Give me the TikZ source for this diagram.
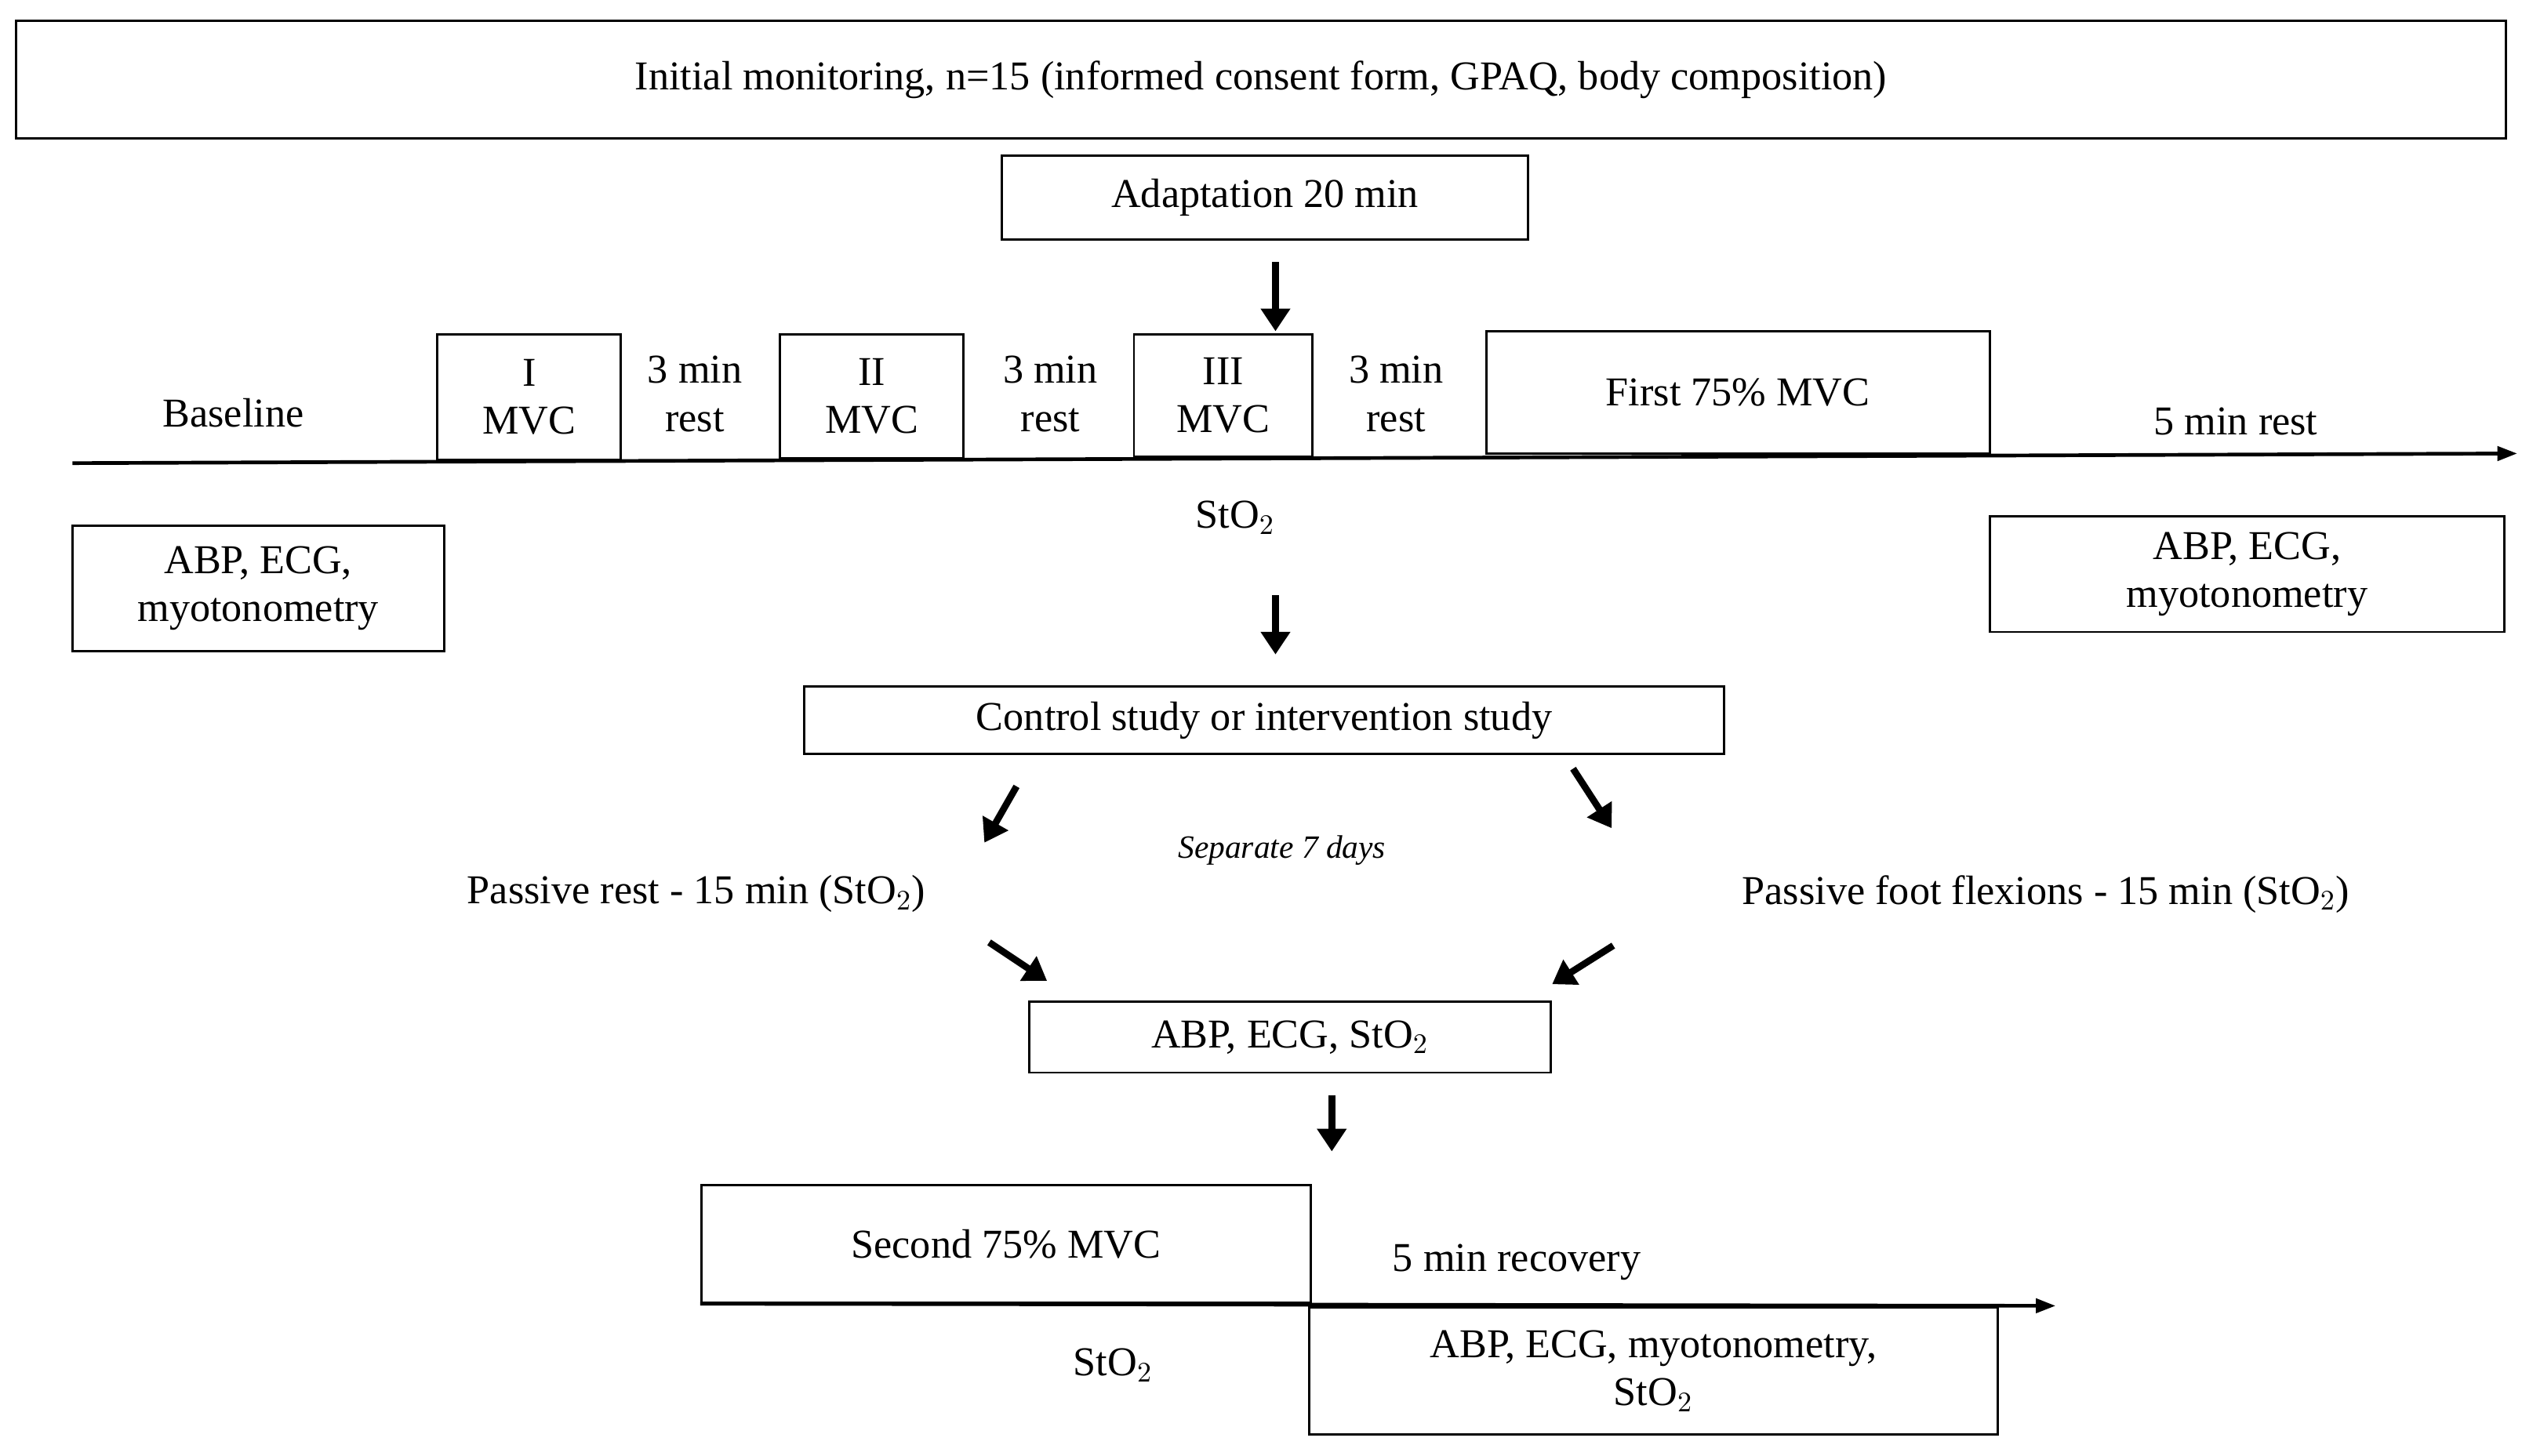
\documentclass[tikz,border=0pt]{standalone}
\usepackage{fontspec}
\setmainfont{Liberation Serif}
\usetikzlibrary{arrows.meta}
\begin{document}
\begin{tikzpicture}[x=0.02cm,y=-0.02cm,
  box/.style={draw,line width=0.8pt,inner sep=0pt,align=center,font=\fontsize{14.5}{17}\selectfont},
  txt/.style={inner sep=0pt,align=center,font=\fontsize{14.5}{17}\selectfont},
  bigarrow/.style={-{Triangle[length=8pt,width=10pt]},line width=2.4pt},
  axis/.style={-{Triangle[length=7pt,width=5pt]},line width=1.3pt}]
\useasboundingbox (0,0) rectangle (1568,905);
\newcommand{\bx}[7]{\node[box,minimum width={(#4-#2)*0.02cm},minimum height={(#5-#3)*0.02cm}] (#1) at ({(#2+#4)/2},{(#3+#5)/2}) {#6};}
\bx{init}{10}{13}{1558}{86}{Initial monitoring, n=15 (informed consent form, GPAQ, body composition)}{}
\bx{adapt}{623}{97}{950}{149}{Adaptation 20 min}{}
\draw[axis] (45,288) coordinate (a0) -- (1565,282) coordinate (a1);
\bx{m1}{272}{208}{386}{286}{I\\MVC}{}
\bx{m2}{485}{208}{599}{285}{II\\MVC}{}
\bx{m3}{705}{208}{816}{284}{III\\MVC}{}
\bx{first}{924}{206}{1237}{282}{First 75\% MVC}{}
\node[txt] (base) at (145,257) {Baseline};
\node[txt] (r1) at (432,245) {3 min\\rest};
\node[txt] (r2) at (653,245) {3 min\\rest};
\node[txt] (r3) at (868,245) {3 min\\rest};
\node[txt] (r5) at (1390,262) {5 min rest};
\node[txt] (sto1) at (768,322) {StO$_2$};
\bx{abpl}{45}{327}{276}{405}{ABP, ECG,\\myotonometry}{}
\bx{abpr}{1237}{321}{1557}{393}{ABP, ECG,\\myotonometry}{}
\bx{ctrl}{500}{427}{1072}{469}{Control study or intervention study}{}
\node[txt,font=\itshape\fontsize{11.5}{14}\selectfont] (sep) at (797,529) {Separate 7 days};
\node[txt] (pr) at (433,556) {Passive rest - 15 min (StO$_2$)};
\node[txt] (pf) at (1272,556) {Passive foot flexions - 15 min (StO$_2$)};
\bx{abp2}{640}{623}{964}{667}{ABP, ECG, StO$_2$}{}
\bx{second}{436}{737}{815}{810}{Second 75\% MVC}{}
\draw[axis] (second.south west) -- (1278,812) coordinate (b1);
\node[txt] (rec) at (943,785) {5 min recovery};
\node[txt] (sto2) at (692,849) {StO$_2$};
\bx{abp3}{814}{813}{1242}{892}{ABP, ECG, myotonometry,\\StO$_2$}{}
\draw[bigarrow] (793,163) -- (793,206);
\draw[bigarrow] (793,370) -- (793,407);
\draw[bigarrow] (632,489) -- (612,524);
\draw[bigarrow] (978,478) -- (1002,515);
\draw[bigarrow] (615,586) -- (651,610);
\draw[bigarrow] (1003,588) -- (965,612);
\draw[bigarrow] (828,681) -- (828,716);
\end{tikzpicture}
\end{document}
